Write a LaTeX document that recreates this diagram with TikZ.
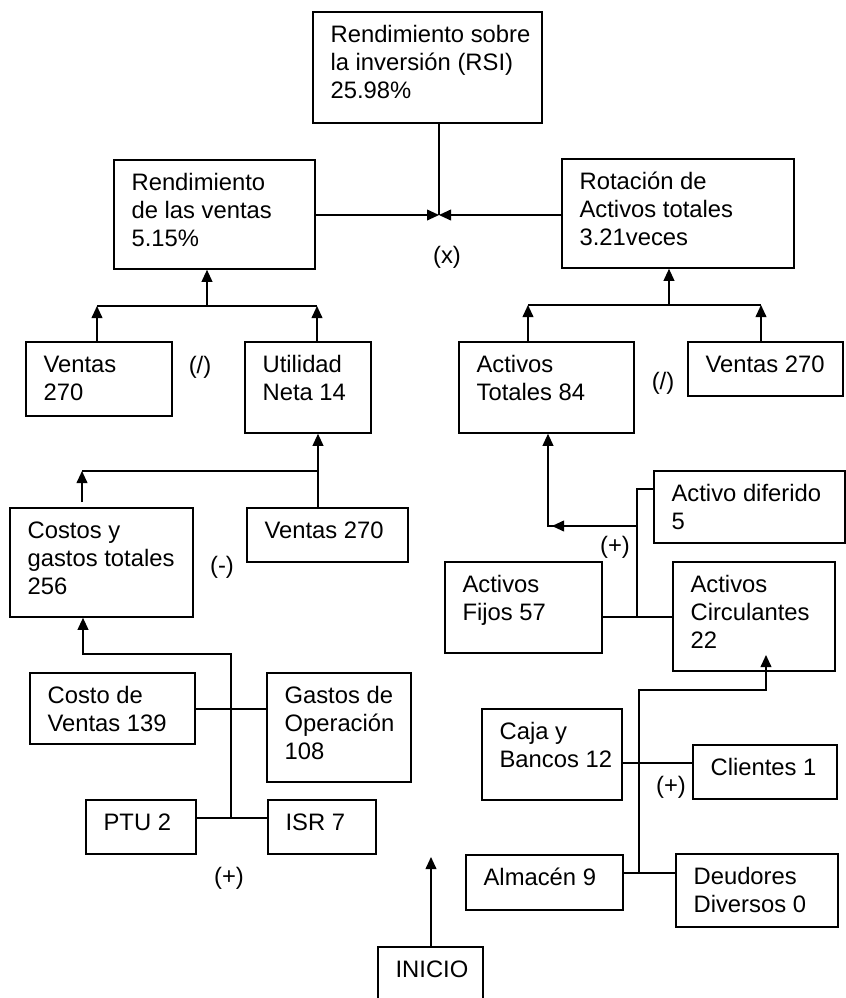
\documentclass[tikz,border=0pt]{standalone}
\usepackage{fontspec}
\setmainfont{Liberation Sans}
\usetikzlibrary{arrows.meta,fit}

\tikzset{
  box/.style={draw, line width=0.8pt, inner sep=0pt},
  txt/.style={anchor=north west, align=left, inner sep=0pt,
    font=\fontsize{11.9}{14}\selectfont},
  op/.style={inner sep=0pt, font=\fontsize{11.9}{14}\selectfont},
  link/.style={line width=0.7pt},
  arr/.style={link, -{Triangle[length=6pt,width=5.4pt]}},
}

% box from (x1,y1) to (x2,y2) with its text set from the top left corner
\newcommand\bloque[6]{%
  \node[box, fit={(#2,#3) (#4,#5)}] (#1) {};
  \node[txt] (#1-t) at ([xshift=9pt,yshift=-5.7pt]#1.north west) {\strut #6};
}

\begin{document}
\begin{tikzpicture}[x=0.5pt, y=-0.5pt]
\useasboundingbox (0,0) rectangle (846,998);
\clip (0,0) rectangle (846,998);

% ---- boxes ----
\bloque{rsi}{313}{12}{542}{123}{Rendimiento sobre\\la inversión (RSI)\\25.98\%}
\bloque{rv}{114}{160}{315}{269}{Rendimiento\\de las ventas\\5.15\%}
\bloque{rot}{562}{159}{794}{268}{Rotación de\\Activos totales\\3.21veces}
\bloque{vl}{26}{342}{172}{416}{Ventas\\270}
\bloque{un}{245}{342}{371}{433}{Utilidad\\Neta 14}
\bloque{at}{459}{342}{634}{433}{Activos\\Totales 84}
\bloque{vr}{688}{342}{843}{396}{Ventas 270}
\bloque{cg}{10}{508}{193}{617}{Costos y\\gastos totales\\256}
\bloque{vm}{247}{508}{408}{562}{Ventas 270}
\bloque{ad}{654}{471}{845}{543}{Activo diferido\\5}
\bloque{af}{445}{562}{602}{653}{Activos\\Fijos 57}
\bloque{ac}{673}{562}{835}{671}{Activos\\Circulantes\\22}
\bloque{cv}{30}{673}{195}{744}{Costo de\\Ventas 139}
\bloque{go}{267}{673}{411}{782}{Gastos de\\Operación\\108}
\bloque{cb}{482}{709}{622}{800}{Caja y\\Bancos 12}
\bloque{cl}{693}{745}{837}{799}{Clientes 1}
\bloque{ptu}{86}{800}{196}{854}{PTU 2}
\bloque{isr}{268}{800}{376}{854}{ISR 7}
\bloque{alm}{466}{855}{623}{910}{Almacén 9}
\bloque{deu}{676}{854}{838}{927}{Deudores\\Diversos 0}
\bloque{ini}{378}{947}{483}{1012}{INICIO}

% ---- operators ----
\node[op] (opx) at (447,257) {(x)};
\node[op] (opdl) at (200,367) {(/)};
\node[op] (opdr) at (663,383) {(/)};
\node[op] (opm) at (222,567) {(-)};
\node[op] (oppl) at (229,878) {(+)};
\node[op] (opp1) at (615,547) {(+)};
\node[op] (opp2) at (671,787) {(+)};

% ---- junction points ----
\coordinate (mx) at (439,215);
\coordinate (lj) at (207,306);
\coordinate (la) at (97,306);
\coordinate (lb) at (317,306);
\coordinate (uj) at (318,471);
\coordinate (cj) at (82,471);
\coordinate (cs) at (82,502);
\coordinate (ck) at (231,654);
\coordinate (cb0) at (83,654);
\coordinate (pl) at (231,818);
\coordinate (gl) at (231,709);
\coordinate (rj) at (669,305);
\coordinate (ra) at (528,305);
\coordinate (rb) at (761,305);
\coordinate (aj) at (637,526);
\coordinate (ak) at (548,526);
\coordinate (dj) at (637,489);
\coordinate (fj) at (637,617);
\coordinate (qj) at (639,690);
\coordinate (qk) at (766,690);
\coordinate (qt) at (766,655);
\coordinate (bj) at (639,763);
\coordinate (mj) at (639,873);
\coordinate (it) at (431,857);

% ---- top level ----
\draw[link] (mx |- rsi.south) -- (mx);
\draw[arr] (rv.east |- mx) -- (mx);
\draw[arr] (rot.west |- mx) -- (mx);

% ---- return on sales ----
\draw[arr] (lj) -- (lj |- rv.south);
\draw[link] (la) -- (lb);
\draw[arr] (la |- vl.north) -- (la);
\draw[arr] (lb |- un.north) -- (lb);

% ---- net profit ----
\draw[arr] (uj |- vm.north) -- (uj |- un.south);
\draw[link] (uj) -- (cj);
\draw[arr] (cs) -- (cj);

% ---- total costs ----
\draw[arr] (pl) -- (ck) -- (cb0) -- (cb0 |- cg.south);
\draw[link] (cv.east |- gl) -- (gl -| go.west);
\draw[link] (pl -| ptu.east) -- (pl -| isr.west);

% ---- start ----
\draw[arr] (ini.north -| it) -- (it);

% ---- asset turnover ----
\draw[arr] (rj) -- (rj |- rot.south);
\draw[link] (ra) -- (rb);
\draw[arr] (ra |- at.north) -- (ra);
\draw[arr] (rb |- vr.north) -- (rb);

% ---- total assets ----
\draw[arr] (aj) -- (ak) -- (ak |- at.south);
\draw[arr] (aj) -- ([xshift=2pt]ak);
\draw[link] (dj -| ad.west) -- (dj) -- (fj);
\draw[link] (af.east |- fj) -- (fj -| ac.west);

% ---- current assets ----
\draw[arr] (mj) -- (qj) -- (qk) -- (qt);
\draw[link] (cb.east |- bj) -- (bj -| cl.west);
\draw[link] (alm.east |- mj) -- (mj -| deu.west);

\end{tikzpicture}
\end{document}
